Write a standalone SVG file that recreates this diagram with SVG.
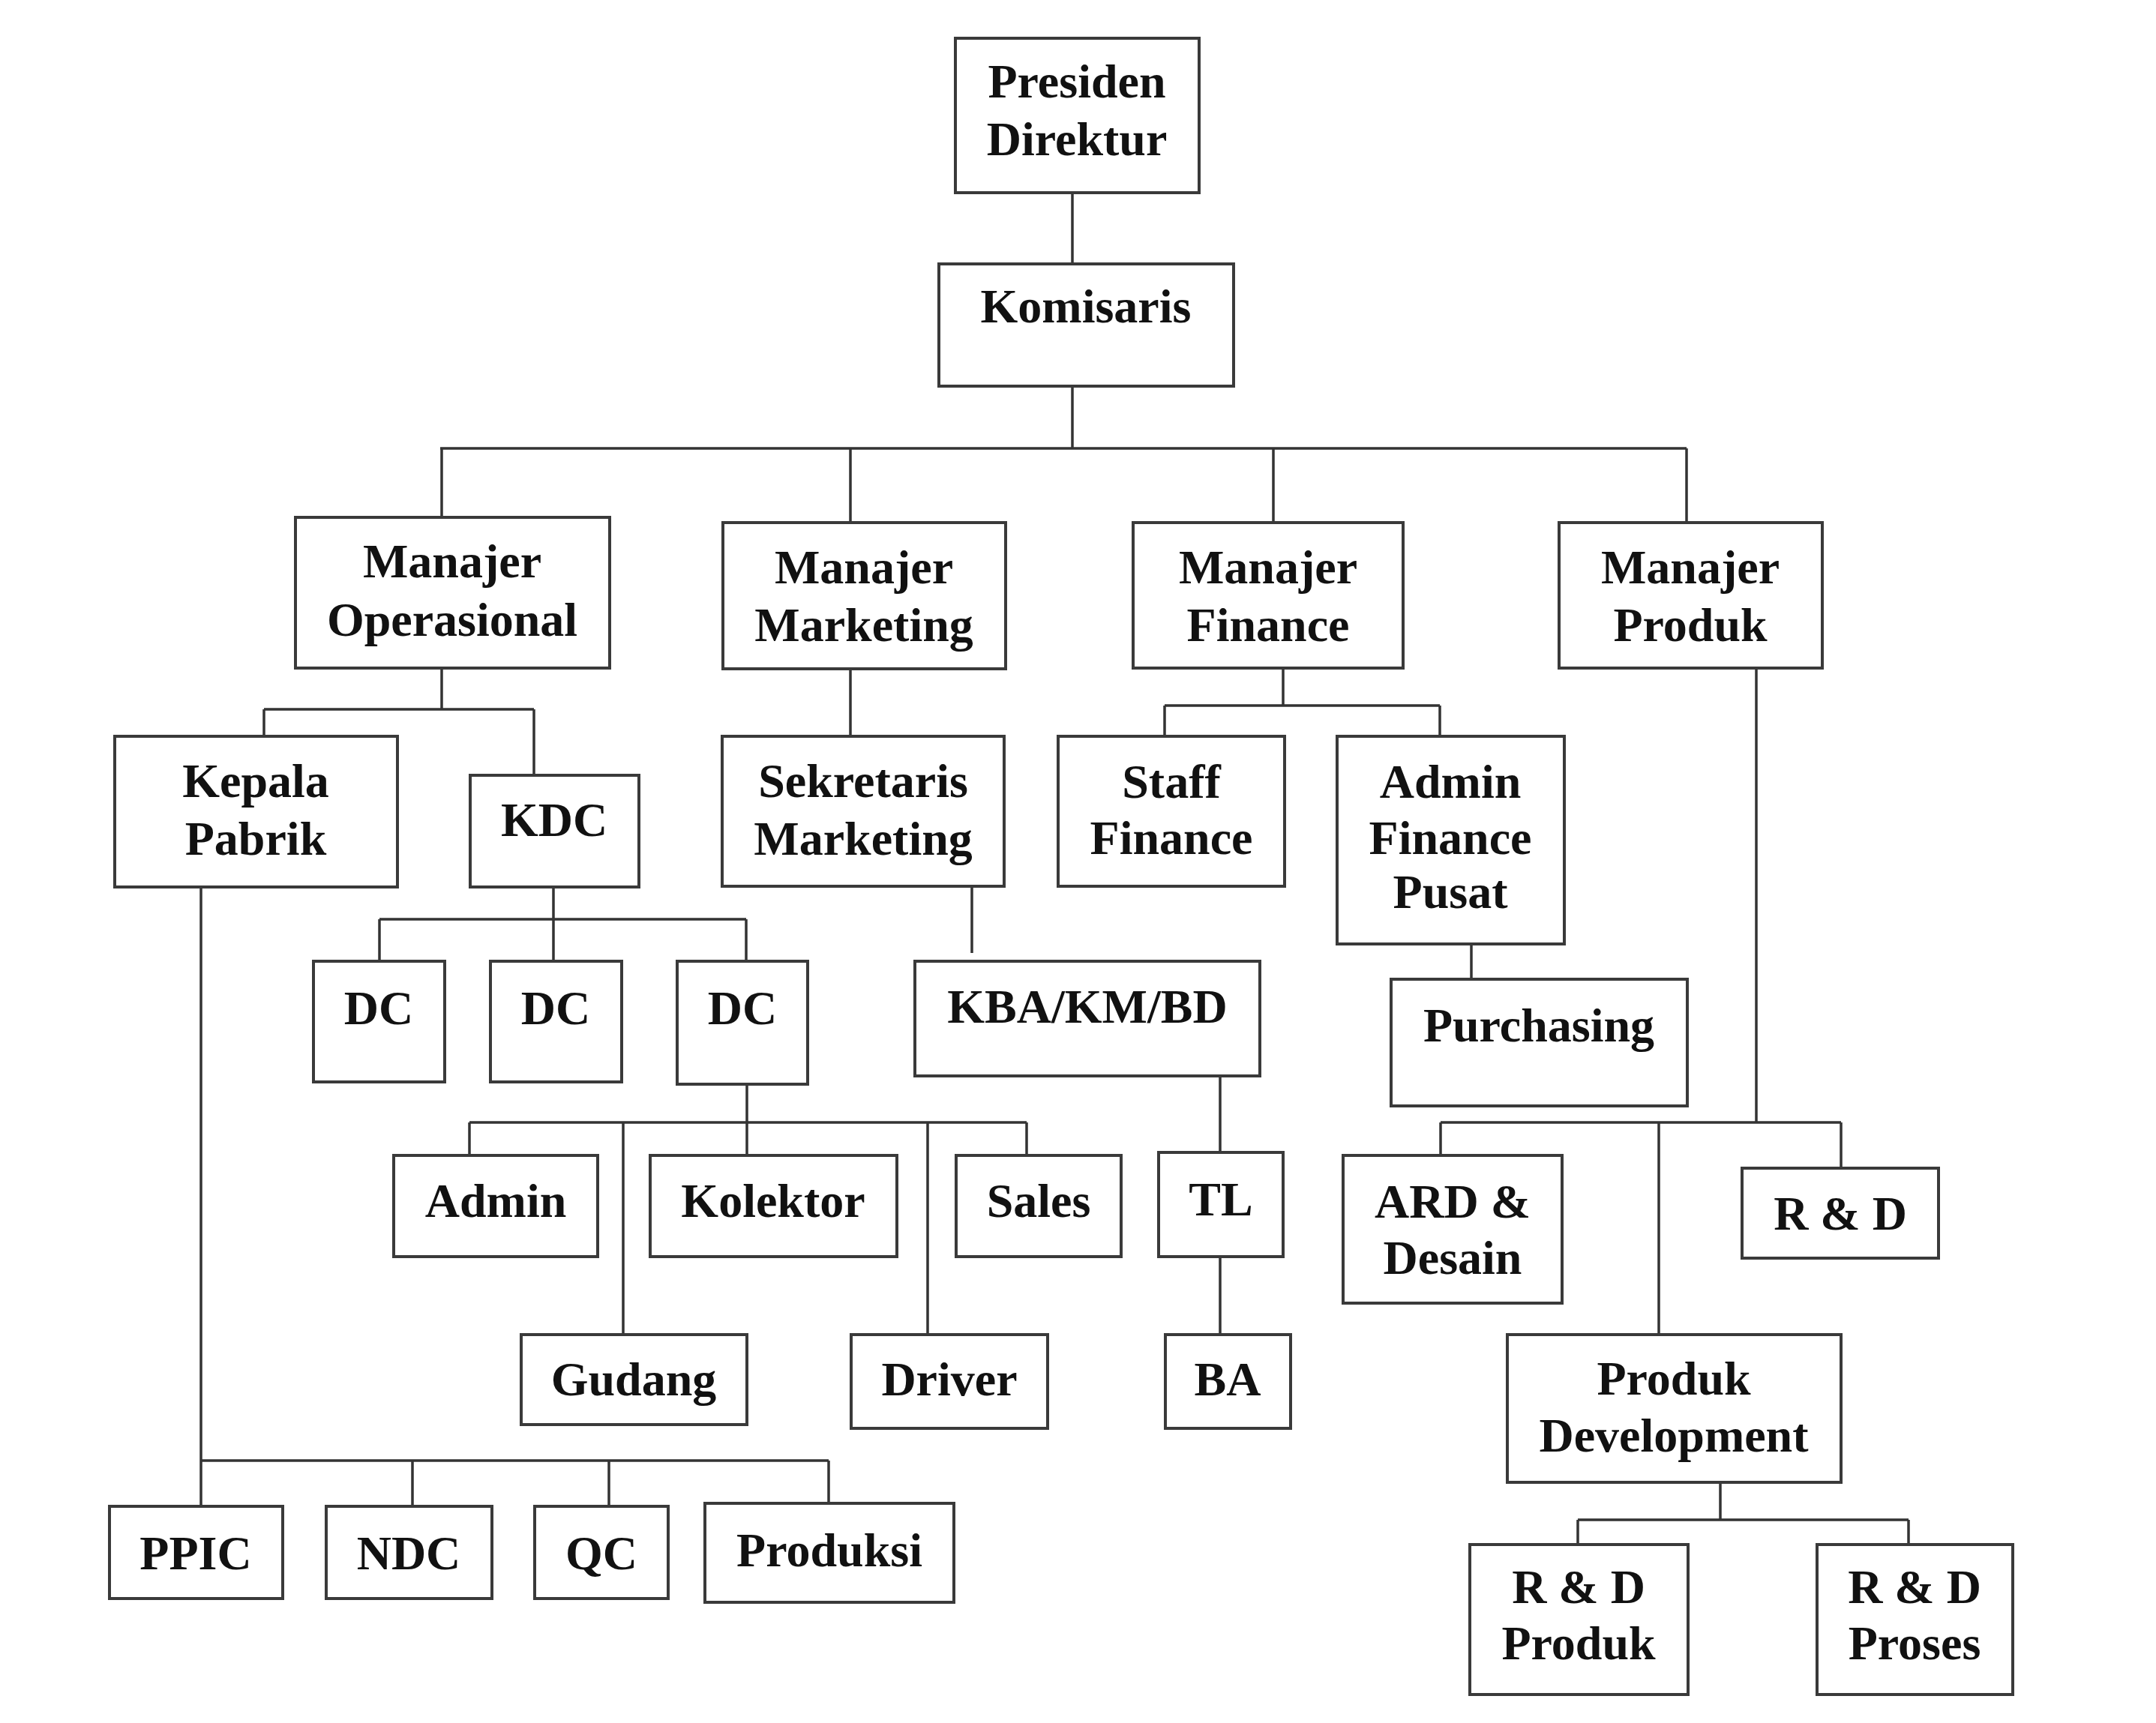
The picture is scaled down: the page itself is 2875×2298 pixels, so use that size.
<svg xmlns="http://www.w3.org/2000/svg" width="2875" height="2298" viewBox="0 0 2875 2298">
<style>
.box{fill:#fff;stroke:#3a3a3a;stroke-width:4}
.t{font-family:"Liberation Serif","Times New Roman",serif;font-weight:bold;font-size:64px;fill:#111;text-anchor:middle}
.c{fill:none;stroke:#333;stroke-width:3.5}
</style>
<rect width="2875" height="2298" fill="#fff"/>
<g id="connectors">
<path class="c" d="M1430 257V352M1430 515V598M587 598H2249M589 598V690M1134 598V697M1698 598V697M2249 598V697"/>
<path class="c" d="M589 891V946M352 946H712M352 946V982M712 946V1034"/>
<path class="c" d="M1134 892V982M1296 1182V1271"/>
<path class="c" d="M1711 891V941M1553 941H1920M1553 941V982M1920 941V982M1962 1259V1306"/>
<path class="c" d="M738 1183V1226M506 1226H995M506 1226V1282M738 1226V1282M995 1226V1282"/>
<path class="c" d="M996 1446V1497M626 1497H1369M626 1497V1541M996 1497V1541M1369 1497V1541M831 1497V1780M1237 1497V1780"/>
<path class="c" d="M1627 1435V1537M1627 1676V1780"/>
<path class="c" d="M268 1183V2009M267 1948H1105M550 1948V2009M812 1948V2009M1105 1948V2005"/>
<path class="c" d="M2342 891V1497M1921 1497H2455M1921 1497V1541M2455 1497V1558M2212 1497V1780"/>
<path class="c" d="M2294 1977V2027M2104 2027H2545M2104 2027V2060M2545 2027V2060"/>
</g>
<g id="presiden"><rect class="box" x="1274" y="51" width="325" height="206"/><text class="t" x="1436" y="130">Presiden</text><text class="t" x="1436" y="207">Direktur</text></g>
<g id="komisaris"><rect class="box" x="1252" y="352" width="393" height="163"/><text class="t" x="1448" y="430">Komisaris</text></g>
<g id="mgr-ops"><rect class="box" x="394" y="690" width="419" height="201"/><text class="t" x="603" y="770">Manajer</text><text class="t" x="603" y="848">Operasional</text></g>
<g id="mgr-mkt"><rect class="box" x="964" y="697" width="377" height="195"/><text class="t" x="1152" y="778">Manajer</text><text class="t" x="1152" y="855">Marketing</text></g>
<g id="mgr-fin"><rect class="box" x="1511" y="697" width="360" height="194"/><text class="t" x="1691" y="778">Manajer</text><text class="t" x="1691" y="855">Finance</text></g>
<g id="mgr-prod"><rect class="box" x="2079" y="697" width="351" height="194"/><text class="t" x="2254" y="778">Manajer</text><text class="t" x="2254" y="855">Produk</text></g>
<g id="kepala-pabrik"><rect class="box" x="153" y="982" width="377" height="201"/><text class="t" x="341" y="1063">Kepala</text><text class="t" x="341" y="1140">Pabrik</text></g>
<g id="kdc"><rect class="box" x="627" y="1034" width="225" height="149"/><text class="t" x="739" y="1115">KDC</text></g>
<g id="sekretaris"><rect class="box" x="963" y="982" width="376" height="200"/><text class="t" x="1151" y="1063">Sekretaris</text><text class="t" x="1151" y="1140">Marketing</text></g>
<g id="staff-finance"><rect class="box" x="1411" y="982" width="302" height="200"/><text class="t" x="1562" y="1064">Staff</text><text class="t" x="1562" y="1139">Finance</text></g>
<g id="admin-finance-pusat"><rect class="box" x="1783" y="982" width="303" height="277"/><text class="t" x="1934" y="1064">Admin</text><text class="t" x="1934" y="1139">Finance</text><text class="t" x="1934" y="1211">Pusat</text></g>
<g id="dc1"><rect class="box" x="418" y="1282" width="175" height="161"/><text class="t" x="505" y="1366">DC</text></g>
<g id="dc2"><rect class="box" x="654" y="1282" width="175" height="161"/><text class="t" x="741" y="1366">DC</text></g>
<g id="dc3"><rect class="box" x="903" y="1282" width="174" height="164"/><text class="t" x="990" y="1366">DC</text></g>
<g id="kba"><rect class="box" x="1220" y="1282" width="460" height="153"/><text class="t" x="1450" y="1364">KBA/KM/BD</text></g>
<g id="purchasing"><rect class="box" x="1855" y="1306" width="395" height="169"/><text class="t" x="2052" y="1389">Purchasing</text></g>
<g id="admin"><rect class="box" x="525" y="1541" width="272" height="135"/><text class="t" x="661" y="1623">Admin</text></g>
<g id="kolektor"><rect class="box" x="867" y="1541" width="329" height="135"/><text class="t" x="1031" y="1623">Kolektor</text></g>
<g id="sales"><rect class="box" x="1275" y="1541" width="220" height="135"/><text class="t" x="1385" y="1623">Sales</text></g>
<g id="tl"><rect class="box" x="1545" y="1537" width="166" height="139"/><text class="t" x="1628" y="1621">TL</text></g>
<g id="gudang"><rect class="box" x="695" y="1780" width="301" height="120"/><text class="t" x="845" y="1861">Gudang</text></g>
<g id="driver"><rect class="box" x="1135" y="1780" width="262" height="125"/><text class="t" x="1266" y="1861">Driver</text></g>
<g id="ba"><rect class="box" x="1554" y="1780" width="167" height="125"/><text class="t" x="1637" y="1861">BA</text></g>
<g id="ard-desain"><rect class="box" x="1791" y="1541" width="292" height="197"/><text class="t" x="1937" y="1624">ARD &amp;</text><text class="t" x="1937" y="1699">Desain</text></g>
<g id="rnd"><rect class="box" x="2323" y="1558" width="262" height="120"/><text class="t" x="2454" y="1640">R &amp; D</text></g>
<g id="produk-development"><rect class="box" x="2010" y="1780" width="445" height="197"/><text class="t" x="2232" y="1860">Produk</text><text class="t" x="2232" y="1936">Development</text></g>
<g id="ppic"><rect class="box" x="146" y="2009" width="231" height="123"/><text class="t" x="261" y="2093">PPIC</text></g>
<g id="ndc"><rect class="box" x="435" y="2009" width="221" height="123"/><text class="t" x="545" y="2093">NDC</text></g>
<g id="qc"><rect class="box" x="713" y="2009" width="178" height="123"/><text class="t" x="802" y="2093">QC</text></g>
<g id="produksi"><rect class="box" x="940" y="2005" width="332" height="132"/><text class="t" x="1106" y="2089">Produksi</text></g>
<g id="rnd-produk"><rect class="box" x="1960" y="2060" width="291" height="200"/><text class="t" x="2105" y="2138">R &amp; D</text><text class="t" x="2105" y="2213">Produk</text></g>
<g id="rnd-proses"><rect class="box" x="2423" y="2060" width="261" height="200"/><text class="t" x="2553" y="2138">R &amp; D</text><text class="t" x="2553" y="2213">Proses</text></g>
</svg>
